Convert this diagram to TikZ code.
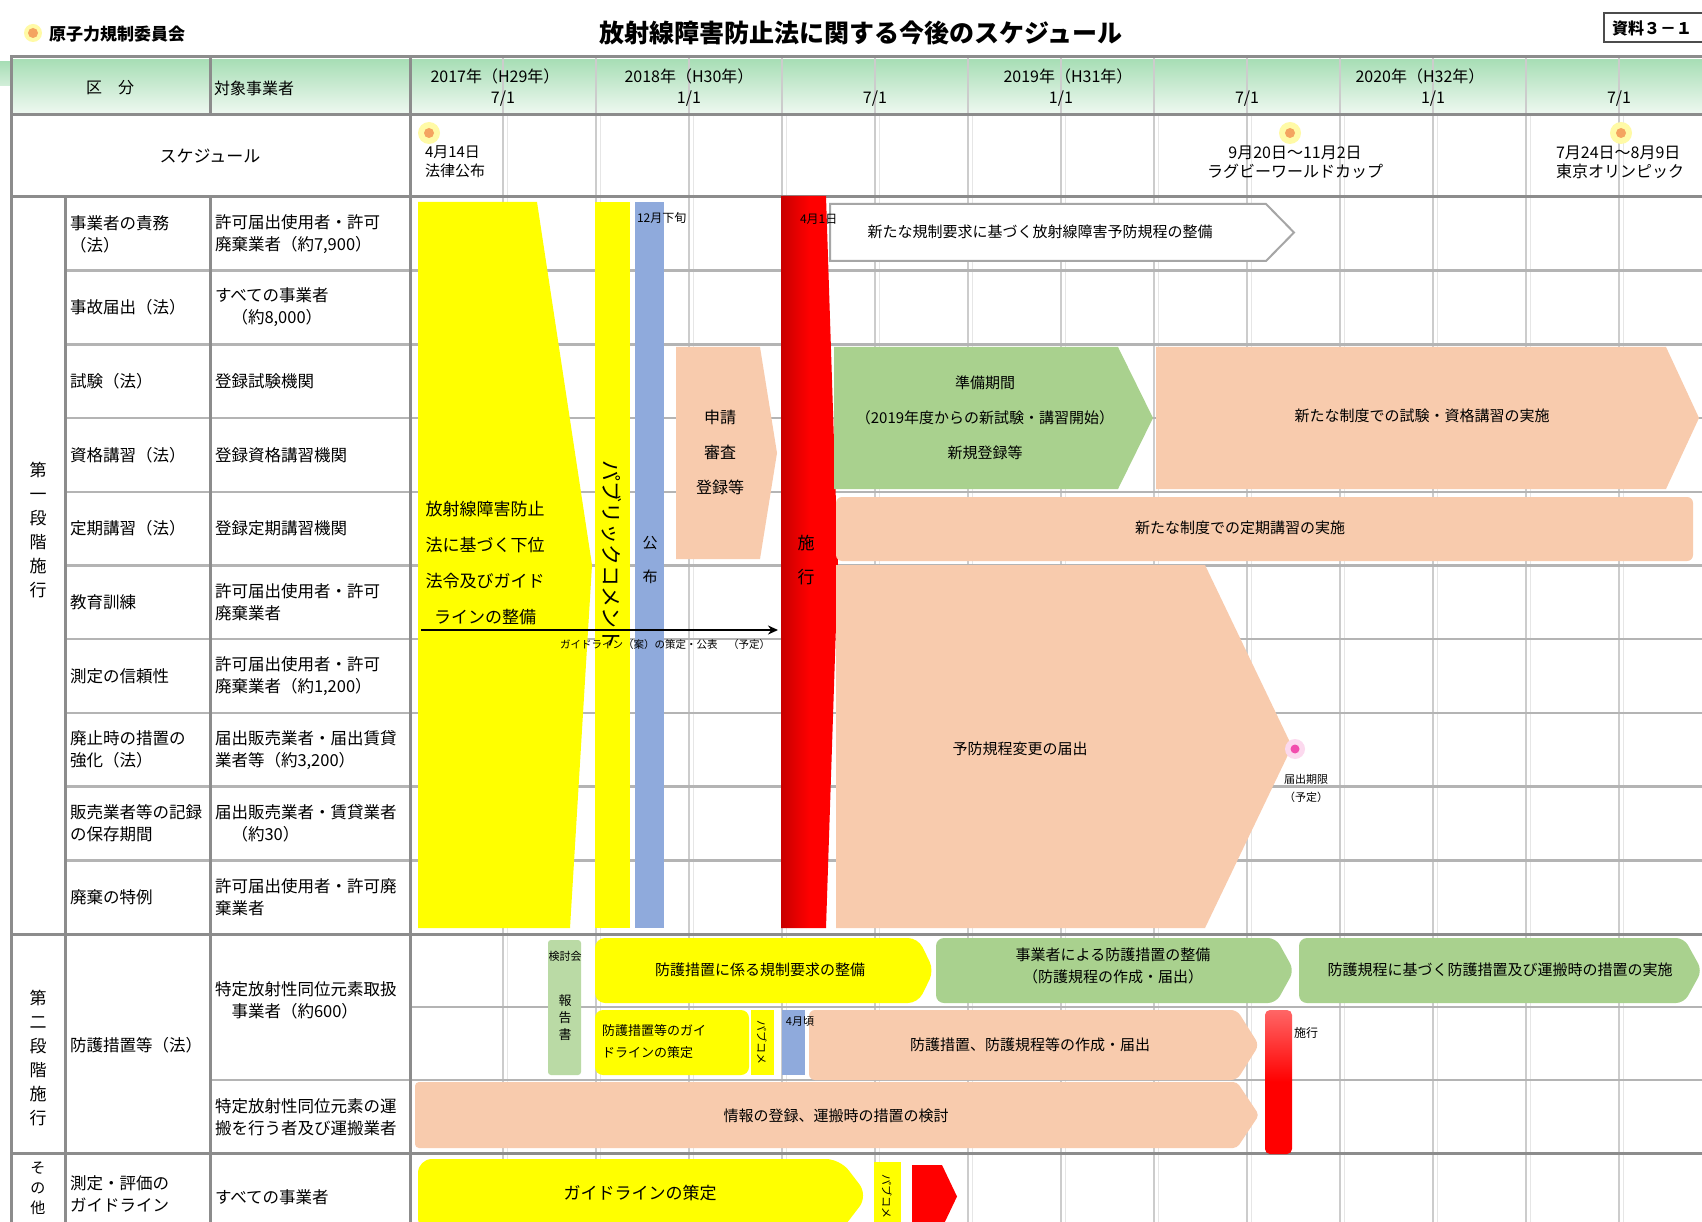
\documentclass[tikz,border=0pt]{standalone}
\usepackage{fontspec}
\setmainfont{Noto Sans CJK JP}
\usetikzlibrary{arrows.meta}
\definecolor{cyel}{HTML}{FFFF00}
\definecolor{cblue}{HTML}{8FAADC}
\definecolor{cred}{HTML}{FF0000}
\definecolor{cdred}{HTML}{C80000}
\definecolor{cpeach}{HTML}{F8CBAD}
\definecolor{cgreen}{HTML}{A9D18E}
\definecolor{chdrtop}{HTML}{A8DEB6}
\definecolor{chdrbot}{HTML}{EFF9F1}
\definecolor{cline}{HTML}{8C8C8C}
\definecolor{crow}{HTML}{B4B4B4}
\definecolor{cgrid}{HTML}{CCCCCC}
\definecolor{corange}{HTML}{F4A460}
\newcommand\pentpath[6]{\path[#6] (#1,#2) -- ({#3-#5},#2) -- (#3,{(#2+#4)/2}) -- ({#3-#5},#4) -- (#1,#4) -- cycle;}
\tikzset{
  every node/.style={inner sep=0pt, outer sep=0pt, text=black},
  tx/.style 2 args={font=\fontsize{#1}{#2}\selectfont},
  thickline/.style={draw=cline, line width=3},
  rowline/.style={draw=crow, line width=2.5},
  qline/.style={draw=cgrid, line width=1.5},
  halo/.style={circle, fill=yellow!35, minimum size=22},
  sun/.style={circle, fill=corange, minimum size=10},
  pinkdot/.style={circle, fill=magenta!70, minimum size=9},
  pinkhalo/.style={circle, fill=magenta!15, minimum size=20},
}
\begin{document}
\begin{tikzpicture}[x=1pt,y=-1pt]
\useasboundingbox (0,0) rectangle (1702,1222);
\fill[white] (0,0) rectangle (1702,1222);
\begin{scope}
\clip (0,0) rectangle (1702,1222);

% ---------- top title area ----------
\node[halo, minimum size=18] (logoH) at (33,33) {};
\node[sun] (logo) at (33,33) {};
\node[anchor=west, font=\fontsize{17}{20}\selectfont\bfseries] (nra) at (49,34) {原子力規制委員会};
\node[font=\fontsize{25}{30}\selectfont\bfseries] (title) at (861,33) {放射線障害防止法に関する今後のスケジュール};
\draw[draw=black!70, line width=1.2, fill=white] (1604,13) rectangle (1720,42);
\node[anchor=west, font=\fontsize{16}{18}\selectfont\bfseries] (docno) at (1612,28) {資料３－１};

% ---------- header band ----------
\shade[top color=chdrtop, bottom color=chdrbot] (11,60) rectangle (1702,114);
\shade[top color=chdrtop, bottom color=chdrbot!60!chdrtop] (0,62) rectangle (11,86);

% ---------- grid ----------
\foreach \q in {1,...,13}{
  \draw[qline] ({410+93*\q},58) -- ({410+93*\q},1222);
  \draw[draw=cgrid!50, line width=1] ({414+93*\q},115) -- ({414+93*\q},1222);
}
\foreach \yy in {270.7,344.4,418.1,491.8,565.5,639.2,712.9,786.6,860.3}{
  \draw[rowline] (65,\yy) -- (1702,\yy);
}
\draw[rowline] (410,1007) -- (1702,1007);
\draw[rowline] (210,1080) -- (1702,1080);
\draw[thickline] (10,57) -- (1702,57);
\draw[thickline] (10,115) -- (1702,115);
\draw[thickline] (10,197) -- (1702,197);
\draw[thickline] (10,934) -- (1702,934);
\draw[thickline] (10,1153) -- (1702,1153);
\draw[thickline] (11,57) -- (11,1222);
\draw[thickline] (65,197) -- (65,1222);
\draw[thickline] (210,57) -- (210,115);
\draw[thickline] (210,197) -- (210,1222);
\draw[thickline] (410,57) -- (410,1222);

% ---------- header texts ----------
\node[tx={16}{18}] (hKubun) at (110,88) {区　分};
\node[tx={16}{18}, anchor=west] (hTaisho) at (214,88) {対象事業者};
\node[tx={16}{18}] (y17) at (495,76) {2017年（H29年）};
\node[tx={16}{18}] (y18) at (689,76) {2018年（H30年）};
\node[tx={16}{18}] (y19) at (1068,76) {2019年（H31年）};
\node[tx={16}{18}] (y20) at (1420,76) {2020年（H32年）};
\node[tx={16}{18}] (m1) at (503,99) {7/1};
\node[tx={16}{18}] (m2) at (689,99) {1/1};
\node[tx={16}{18}] (m3) at (875,99) {7/1};
\node[tx={16}{18}] (m4) at (1061,99) {1/1};
\node[tx={16}{18}] (m5) at (1247,99) {7/1};
\node[tx={16}{18}] (m6) at (1433,99) {1/1};
\node[tx={16}{18}] (m7) at (1619,99) {7/1};

% ---------- schedule row ----------
\node[tx={17}{20}] (sched) at (210,156) {スケジュール};
\node[halo] (ic1h) at (429,133) {};
\node[sun] (ic1) at (429,133) {};
\node[tx={15}{19}, anchor=west, align=left] (ev1) at (425,162) {4月14日\\法律公布};
\node[halo] (ic2h) at (1290,133) {};
\node[sun] (ic2) at (1290,133) {};
\node[tx={16}{19}, align=center] (ev2) at (1295,162) {9月20日～11月2日\\ラグビーワールドカップ};
\node[halo] (ic3h) at (1621,133) {};
\node[sun] (ic3) at (1621,133) {};
\node[tx={16}{19}, anchor=west, align=left] (ev3) at (1556,162) {7月24日～8月9日\\東京オリンピック};

% ---------- left labels ----------
\node[tx={17}{24}, align=center] (sec1) at (38,530) {第\\一\\段\\階\\施\\行};
\node[tx={17}{24}, align=center] (sec2) at (38,1058) {第\\二\\段\\階\\施\\行};
\node[tx={15}{20}, align=center] (sec3) at (38,1188) {そ\\の\\他};

\node[tx={16.5}{22}, anchor=west, align=left] (k1) at (70,234) {事業者の責務\\（法）};
\node[tx={16.5}{22}, anchor=west, align=left] (k2) at (70,307.5) {事故届出（法）};
\node[tx={16.5}{22}, anchor=west, align=left] (k3) at (70,381) {試験（法）};
\node[tx={16.5}{22}, anchor=west, align=left] (k4) at (70,455) {資格講習（法）};
\node[tx={16.5}{22}, anchor=west, align=left] (k5) at (70,528.7) {定期講習（法）};
\node[tx={16.5}{22}, anchor=west, align=left] (k6) at (70,602.4) {教育訓練};
\node[tx={16.5}{22}, anchor=west, align=left] (k7) at (70,676) {測定の信頼性};
\node[tx={16.5}{22}, anchor=west, align=left] (k8) at (70,749.8) {廃止時の措置の\\強化（法）};
\node[tx={16.5}{22}, anchor=west, align=left] (k9) at (70,823.5) {販売業者等の記録\\の保存期間};
\node[tx={16.5}{22}, anchor=west, align=left] (k10) at (70,897) {廃棄の特例};
\node[tx={16.5}{22}, anchor=west, align=left] (k11) at (70,1045) {防護措置等（法）};
\node[tx={16.5}{22}, anchor=west, align=left] (k12) at (70,1194) {測定・評価の\\ガイドライン};

\node[tx={16.5}{22}, anchor=west, align=left] (t1) at (215,234) {許可届出使用者・許可\\廃棄業者（約7,900）};
\node[tx={16.5}{22}, anchor=west, align=left] (t2) at (215,307.5) {すべての事業者\\　（約8,000）};
\node[tx={16.5}{22}, anchor=west, align=left] (t3) at (215,381) {登録試験機関};
\node[tx={16.5}{22}, anchor=west, align=left] (t4) at (215,455) {登録資格講習機関};
\node[tx={16.5}{22}, anchor=west, align=left] (t5) at (215,528.7) {登録定期講習機関};
\node[tx={16.5}{22}, anchor=west, align=left] (t6) at (215,602.4) {許可届出使用者・許可\\廃棄業者};
\node[tx={16.5}{22}, anchor=west, align=left] (t7) at (215,676) {許可届出使用者・許可\\廃棄業者（約1,200）};
\node[tx={16.5}{22}, anchor=west, align=left] (t8) at (215,749.8) {届出販売業者・届出賃貸\\業者等（約3,200）};
\node[tx={16.5}{22}, anchor=west, align=left] (t9) at (215,823.5) {届出販売業者・賃貸業者\\　（約30）};
\node[tx={16.5}{22}, anchor=west, align=left] (t10) at (215,897) {許可届出使用者・許可廃\\棄業者};
\node[tx={16.5}{22}, anchor=west, align=left] (t11) at (215,1000) {特定放射性同位元素取扱\\　事業者（約600）};
\node[tx={16.5}{22}, anchor=west, align=left] (t12) at (215,1117) {特定放射性同位元素の運\\搬を行う者及び運搬業者};
\node[tx={16.5}{22}, anchor=west, align=left] (t13) at (215,1197) {すべての事業者};

% ---------- first stage shapes ----------
\path[fill=cyel] (418,202) -- (537,202) -- (592,565) -- (570,928) -- (418,928) -- cycle;
\path[fill=cyel] (595,202) rectangle (630,928);
\path[fill=cblue] (635,202) rectangle (664,928);
\pentpath{676}{347}{777}{559}{17}{fill=cpeach}
\path[left color=cdred, right color=cred, middle color=cred] (781,196) -- (826,196) -- (838,565) -- (826,928) -- (781,928) -- cycle;
\pentpath{830}{204}{1294}{261}{28}{fill=white, draw=gray!70, line width=2}
\pentpath{834}{347}{1153}{489}{35}{fill=cgreen}
\pentpath{1156}{347}{1699}{489}{33}{fill=cpeach}
\path[fill=cpeach, rounded corners=6] (836,497) rectangle (1693,561);
\pentpath{836}{565}{1292}{928}{87}{fill=cpeach}

\node[tx={17}{36}, align=center] (yelTxt) at (485,563) {放射線障害防止\\法に基づく下位\\法令及びガイド\\ラインの整備};
\node[tx={21}{24}, rotate=-90] (pubTxt) at (612,555) {パブリックコメント};
\node[tx={15}{34}, align=center] (bluTxt) at (650,560) {公\\布};
\node[tx={12}{14}, anchor=west] (bluLbl) at (637,218) {12月下旬};
\node[tx={16}{35}, align=center] (shinsa) at (720,452) {申請\\審査\\登録等};
\node[tx={17}{34}, align=center] (redTxt) at (806,560) {施\\行};
\node[tx={12}{14}, anchor=west] (redLbl) at (800,219) {4月1日};
\node[tx={15}{18}] (whTxt) at (1040,232) {新たな規制要求に基づく放射線障害予防規程の整備};
\node[tx={15}{35}, align=center] (grTxt) at (985,418) {準備期間\\（2019年度からの新試験・講習開始）\\新規登録等};
\node[tx={15}{18}] (pkR) at (1422,416) {新たな制度での試験・資格講習の実施};
\node[tx={15}{18}] (pk5) at (1240,528) {新たな制度での定期講習の実施};
\node[tx={15}{18}] (pkBig) at (1020,749) {予防規程変更の届出};
\node[pinkhalo] (starH) at (1295,749) {};
\node[pinkdot] (star) at (1295,749) {};
\node[tx={11}{18}, align=center] (starTxt) at (1306,788) {届出期限\\（予定）};

\coordinate (gaS) at (421,630);
\coordinate (gaE) at (778,630);
\draw[line width=2.5, -{Stealth[length=10, width=9]}] (gaS) -- (gaE);
\node[tx={10.5}{12}, anchor=west] (gaLbl) at (560,645) {ガイドライン（案）の策定・公表　（予定）};

% ---------- second stage shapes ----------
\path[fill=cgreen!80, rounded corners=3] (548,940) rectangle (581,1075);
\node[tx={11}{13}] (g2top) at (565,956) {検討会};
\node[tx={13}{17}, align=center] (g2v) at (565,1018) {報\\告\\書};
\pentpath{595}{938}{934}{1003}{16}{fill=cyel, rounded corners=10}
\node[tx={15}{18}] (y2Txt) at (760,970) {防護措置に係る規制要求の整備};
\pentpath{936}{938}{1294}{1003}{18}{fill=cgreen, rounded corners=8}
\node[tx={15}{22}, align=center] (g2Txt) at (1113,966) {事業者による防護措置の整備\\（防護規程の作成・届出）};
\pentpath{1299}{938}{1702}{1003}{18}{fill=cgreen, rounded corners=8}
\node[tx={15}{18}] (g3Txt) at (1500,970) {防護規程に基づく防護措置及び運搬時の措置の実施};
\path[fill=cyel, rounded corners=8] (595,1010) rectangle (749,1075);
\node[tx={13}{22}, anchor=west, align=left] (y3Txt) at (602,1042) {防護措置等のガイ\\ドラインの策定};
\path[fill=cyel] (751,1010) rectangle (774,1075);
\node[tx={11}{12}, rotate=-90] (pub2) at (762,1042) {パブコメ};
\path[fill=cblue] (782,1010) rectangle (805,1075);
\pentpath{809}{1010}{1259}{1080}{22}{fill=cpeach, rounded corners=6}
\node[tx={11}{12}] (blu2) at (800,1021) {4月頃};
\node[tx={15}{18}] (pk2Txt) at (1030,1045) {防護措置、防護規程等の作成・届出};
\pentpath{415}{1082}{1259}{1148}{22}{fill=cpeach, rounded corners=4}
\node[tx={15}{18}] (pk3Txt) at (836,1116) {情報の登録、運搬時の措置の検討};
\path[top color=cred!60, bottom color=cred, middle color=cred, rounded corners=5] (1265,1010) rectangle (1292,1154);
\node[tx={12}{14}, anchor=west] (red2Lbl) at (1294,1033) {施行};

% ---------- third section ----------
\pentpath{418}{1159}{868}{1232}{28}{fill=cyel, rounded corners=14}
\node[tx={17}{20}] (y4Txt) at (640,1193) {ガイドラインの策定};
\path[fill=cyel] (874,1162) rectangle (901,1230);
\node[tx={11}{12}, rotate=-90] (pub3) at (887,1196) {パブコメ};
\pentpath{912}{1165}{957}{1228}{15}{fill=cred}
\end{scope}
\end{tikzpicture}
\end{document}
